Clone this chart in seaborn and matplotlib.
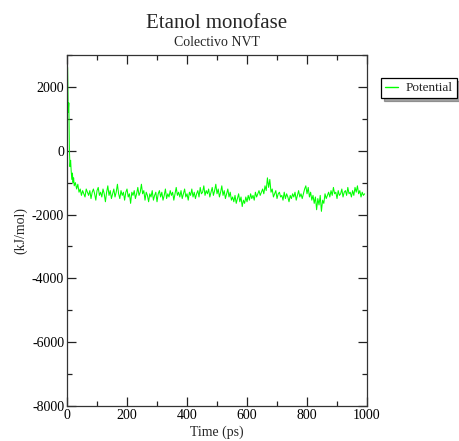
import numpy as np
import pandas as pd
import matplotlib
matplotlib.use("Agg")
import matplotlib.pyplot as plt
from matplotlib.ticker import MultipleLocator
from matplotlib.lines import Line2D
import seaborn as sns

title = "Etanol monofase"
subtitle = "Colectivo NVT"
x_label = "Time (ps)"
y_label = "(kJ/mol)"
series_name = "Potential"
line_color = "#00ff00"

# equilibration start, sampled every 2 ps (0-22 ps)
early_step = 2
energy_early = [2700, 2600, 1200, 1500, 0, -500, -300, -650, -900, -700, -1000, -850]
# rest of the run, sampled every 4 ps (24-1000 ps)
main_start = 24
main_step = 4
energy_main = [
    -1100, -1000,
    -1200, -1050, -1300, -1200, -1400, -1250, -1350, -1450, -1200, -1300,
    -1400, -1250, -1500, -1300, -1200, -1350, -1550, -1250, -1150, -1400,
    -1300, -1450, -1200, -1350, -1600, -1300, -1100, -1400, -1250, -1500,
    -1350, -1200, -1450, -1300, -1050, -1350, -1500, -1250, -1400, -1300,
    -1550, -1300, -1200, -1450, -1350, -1650, -1300, -1400, -1250, -1500,
    -1350, -1150, -1400, -1300, -1050, -1350, -1250, -1550, -1300, -1400,
    -1600, -1350, -1450, -1250, -1550, -1400, -1300, -1600, -1350, -1250,
    -1450, -1300, -1550, -1400, -1200, -1500, -1350, -1450, -1250, -1400,
    -1300, -1550, -1350, -1150, -1400, -1300, -1450, -1250, -1500, -1350,
    -1200, -1450, -1350, -1550, -1300, -1400, -1200, -1450, -1300, -1500,
    -1350, -1250, -1450, -1150, -1350, -1300, -1100, -1400, -1250, -1350,
    -1200, -1450, -1300, -1150, -1400, -1250, -1050, -1350, -1200, -1450,
    -1300, -1100, -1400, -1250, -1500, -1350, -1200, -1450, -1300, -1550,
    -1450, -1600, -1400, -1650, -1500, -1350, -1600, -1450, -1750, -1550,
    -1650, -1450, -1600, -1400, -1550, -1350, -1500, -1400, -1550, -1300,
    -1450, -1350, -1250, -1400, -1300, -1200, -1350, -1100, -1250, -850,
    -1150, -900, -1300, -1200, -1450, -1350, -1250, -1500, -1350, -1300,
    -1450, -1400, -1550, -1300, -1500, -1350, -1450, -1600, -1400, -1500,
    -1350, -1450, -1300, -1550, -1400, -1250, -1450, -1350, -1500, -1350,
    -1200, -1100, -1350, -1150, -1450, -1300, -1550, -1400, -1650, -1450,
    -1850, -1500, -1700, -1400, -1900, -1550, -1650, -1350, -1500, -1400,
    -1300, -1450, -1250, -1400, -1150, -1350, -1300, -1500, -1250, -1400,
    -1350, -1200, -1450, -1300, -1250, -1400, -1150, -1350, -1300, -1450,
    -1250, -1400, -1150, -1300, -1100, -1350, -1250, -1450, -1300, -1400,
    -1350,
]
time = np.concatenate([np.arange(len(energy_early)) * early_step,
                       main_start + np.arange(len(energy_main)) * main_step])
energy = energy_early + energy_main

x_ticks = [0, 200, 400, 600, 800, 1000]
y_ticks = [-8000, -6000, -4000, -2000, 0, 2000]

df = pd.DataFrame({"time": time, "energy": energy})

sns.set_style("ticks")
plt.rcParams["font.family"] = ["Liberation Serif", "DejaVu Serif"]
plt.rcParams["axes.unicode_minus"] = False

fig = plt.figure(figsize=(4.59, 4.41), dpi=100)
ax = fig.add_axes([0.146, 0.0794, 0.6536, 0.7959])

sns.lineplot(data=df, x="time", y="energy", ax=ax, color=line_color,
             linewidth=0.75, legend=False)

ax.set_xlim(0, 1000)
ax.set_ylim(-8000, 3000)
ax.set_xticks(x_ticks)
ax.set_yticks(y_ticks)
ax.xaxis.set_minor_locator(MultipleLocator(100))
ax.yaxis.set_minor_locator(MultipleLocator(1000))
ax.tick_params(which="both", direction="in", top=True, right=True,
               labelsize=10, width=0.9, color="#222222", labelcolor="black")
ax.tick_params(which="major", length=6.5, pad=2)
ax.tick_params(which="minor", length=3.5)
for s in ax.spines.values():
    s.set_linewidth(0.9)
    s.set_color("#333333")

ax.set_xlabel(x_label, fontsize=10, labelpad=3)
ax.set_ylabel(y_label, fontsize=10, labelpad=3)

fig.text(217 / 459, 1 - 24 / 441, title, ha="center", va="center", fontsize=15)
fig.text(217 / 459, 1 - 42 / 441, subtitle, ha="center", va="center", fontsize=10)

handle = Line2D([], [], color=line_color, linewidth=1.0)
leg = fig.legend([handle], [series_name], loc="upper left",
                 bbox_to_anchor=(381 / 459, 1 - 78 / 441),
                 fontsize=9.5, frameon=True, fancybox=False, shadow=True,
                 edgecolor="black", framealpha=1, handlelength=1.0,
                 handletextpad=0.6, borderpad=0.3, borderaxespad=0)
leg.get_frame().set_linewidth(0.9)

fig.savefig("out.png", dpi=100)
